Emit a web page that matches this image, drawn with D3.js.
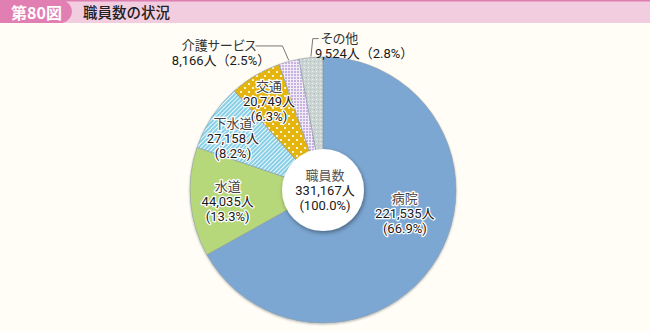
<!DOCTYPE html>
<html lang="ja">
<head>
<meta charset="utf-8">
<script src="https://cdn.jsdelivr.net/npm/d3@7"></script>
<style>
  html, body { margin: 0; padding: 0; background: #fffdf6; }
  svg { display: block; font-family: "Noto Sans CJK JP", "Noto Sans", sans-serif; }
  .lbl { font-family: Roboto, "Noto Sans CJK JP", sans-serif; }
  .kana { font-feature-settings: "palt"; }
</style>
</head>
<body>
<svg id="chart" width="650" height="332"></svg>
<script>
// 職員数の内訳（部門別）
const categories = ["病院", "水道", "下水道", "交通", "介護サービス", "その他"];
const values = [221535, 44035, 27158, 20749, 8166, 9524];
const shares = [66.9, 13.3, 8.2, 6.3, 2.5, 2.8];
const totalLabel = ["職員数", "331,167人", "(100.0%)"];
const figureNo = "第80図";
const title = "職員数の状況";

const W = 650, H = 332;
const cx = 323, cy = 190, R = 133, holeR = 41;

const svg = d3.select("#chart");
const defs = svg.append("defs");

// fills
const fills = ["#7ba7d3", "#b7d87a", "url(#pHatch)", "url(#pDots)", "url(#pGrid)", "url(#pSpeck)"];

// diagonal hatch (下水道)
const ph = defs.append("pattern").attr("id", "pHatch").attr("patternUnits", "userSpaceOnUse")
  .attr("width", 3).attr("height", 3).attr("patternTransform", "rotate(45)");
ph.append("rect").attr("width", 3).attr("height", 3).attr("fill", "#86cfe6");
ph.append("rect").attr("width", 1).attr("height", 3).attr("fill", "#ffffff").attr("opacity", 0.85);

// dots (交通)
const pd = defs.append("pattern").attr("id", "pDots").attr("patternUnits", "userSpaceOnUse")
  .attr("width", 8).attr("height", 8);
pd.append("rect").attr("width", 8).attr("height", 8).attr("fill", "#e3b511");
pd.append("circle").attr("cx", 2).attr("cy", 2).attr("r", 1.1).attr("fill", "#fff");
pd.append("circle").attr("cx", 6).attr("cy", 6).attr("r", 1.1).attr("fill", "#fff");

// grid (介護サービス)
const pg = defs.append("pattern").attr("id", "pGrid").attr("patternUnits", "userSpaceOnUse")
  .attr("width", 3).attr("height", 3);
pg.append("rect").attr("width", 3).attr("height", 3).attr("fill", "#c6b2de");
pg.append("rect").attr("width", 3).attr("height", 1).attr("fill", "#f1ebf8");
pg.append("rect").attr("width", 1).attr("height", 3).attr("fill", "#f1ebf8");

// speckle (その他)
const ps = defs.append("pattern").attr("id", "pSpeck").attr("patternUnits", "userSpaceOnUse")
  .attr("width", 4).attr("height", 4);
ps.append("rect").attr("width", 4).attr("height", 4).attr("fill", "#cbd5d4");
ps.append("rect").attr("x", 1).attr("y", 1).attr("width", 1).attr("height", 1).attr("fill", "#eef2f1");
ps.append("rect").attr("x", 3).attr("y", 3).attr("width", 1).attr("height", 1).attr("fill", "#aeb9b8");

// shadows
const sh = defs.append("filter").attr("id", "shadow").attr("x", "-30%").attr("y", "-30%").attr("width", "160%").attr("height", "160%");
sh.append("feDropShadow").attr("dx", 1).attr("dy", 2).attr("stdDeviation", 2.2)
  .attr("flood-color", "#000").attr("flood-opacity", 0.4);
const sh2 = defs.append("filter").attr("id", "pieShadow").attr("x", "-10%").attr("y", "-10%").attr("width", "120%").attr("height", "120%");
sh2.append("feDropShadow").attr("dx", 0).attr("dy", 1).attr("stdDeviation", 1)
  .attr("flood-color", "#000").attr("flood-opacity", 0.3);

// header
svg.append("rect").attr("x", 0).attr("y", 0).attr("width", W).attr("height", 23).attr("fill", "#f2cde0");
svg.append("rect").attr("x", 0).attr("y", 0).attr("width", W).attr("height", 1.5).attr("fill", "#df7fb0");
svg.append("path")
  .attr("d", "M0,0 H60 A12,12 0 0 1 72,11.5 A12,12 0 0 1 60,23 H0 Z")
  .attr("fill", "#e27fb2");
svg.append("text").attr("x", 11).attr("y", 18.5).attr("fill", "#fff")
  .attr("font-size", 16).attr("font-weight", 700).text(figureNo);
svg.append("text").attr("x", 83).attr("y", 18).attr("fill", "#222")
  .attr("font-size", 14.5).attr("font-weight", 500).text(title);

// pie
const data = categories.map((c, i) => ({ cat: c, value: values[i], share: shares[i], fill: fills[i] }));
const pie = d3.pie().value(d => d.value).sort(null).startAngle(0).endAngle(2 * Math.PI);
const arcs = pie(data);
const arc = d3.arc().innerRadius(0).outerRadius(R);

const g = svg.append("g").attr("transform", `translate(${cx},${cy})`);
g.append("g").attr("filter", "url(#pieShadow)")
  .selectAll("path").data(arcs).join("path")
  .attr("d", arc)
  .attr("fill", d => d.data.fill)
  .attr("stroke", "#8c9aa6")
  .attr("stroke-width", 0.6);

// centre disc
g.append("circle").attr("r", holeR).attr("fill", "#fff").attr("filter", "url(#shadow)");

const fmt = d3.format(",");
const fs = 13;
const lineH = 15;

// multi-line label as one text element
function block(parent, x, y, lines, colors, halo) {
  const t = parent.append("text").attr("class", "lbl").attr("x", x).attr("y", y)
    .attr("text-anchor", "middle").attr("font-size", fs);
  if (halo) {
    t.attr("stroke", "#fff").attr("stroke-width", 2.5)
      .attr("stroke-linejoin", "round").attr("paint-order", "stroke");
  }
  lines.forEach((s, k) => {
    t.append("tspan").attr("x", x).attr("dy", k === 0 ? 0 : lineH)
      .attr("fill", colors[k]).text(s);
  });
  return t;
}

// inside labels: radius and angle nudge per slice
const labelR = [85, 96, 104, 104];
const labelNudge = [-14.7, -1.4, -3.5, -0.8];
arcs.slice(0, 4).forEach((a, i) => {
  const ang = (a.startAngle + a.endAngle) / 2 + labelNudge[i] * Math.PI / 180;
  const x = Math.sin(ang) * labelR[i], y = -Math.cos(ang) * labelR[i];
  block(g, x, y - lineH + 4.5,
    [a.data.cat, fmt(a.data.value) + "人", "(" + a.data.share.toFixed(1) + "%)"],
    ["#444", "#1a1a1a", "#1a1a1a"], true);
});

// centre label
block(g, 2, -lineH + 4.5, totalLabel, ["#555", "#1a1a1a", "#1a1a1a"], false);

// outside labels with leader lines
const outer = [
  { i: 4, elbowR: R + 16, shift: -2.5, run: -27, nameX: -104, valX: -102, anchor: "middle" },
  { i: 5, elbowR: R + 19, shift: 3.5, run: 6, nameX: -2, valX: -8, anchor: "start" }
];
outer.forEach(o => {
  const a = arcs[o.i];
  const ang = (a.startAngle + a.endAngle) / 2;
  const p0 = [Math.sin(ang) * (R + 1), -Math.cos(ang) * (R + 1)];
  const p1 = [Math.sin(ang) * o.elbowR + o.shift, -Math.cos(ang) * o.elbowR];
  const p2 = [p1[0] + o.run, p1[1]];
  g.append("path").attr("d", d3.line()([p0, p1, p2]))
    .attr("fill", "none").attr("stroke", "#777").attr("stroke-width", 1);
  const t = g.append("text").attr("class", "lbl").attr("y", p1[1] + 4.5)
    .attr("text-anchor", o.anchor).attr("font-size", fs);
  t.append("tspan").attr("class", "kana").attr("x", o.nameX).attr("fill", "#333").text(a.data.cat);
  t.append("tspan").attr("x", o.valX).attr("dy", lineH).attr("fill", "#1a1a1a")
    .text(fmt(a.data.value) + "人（" + a.data.share.toFixed(1) + "%）");
});
</script>
</body>
</html>
